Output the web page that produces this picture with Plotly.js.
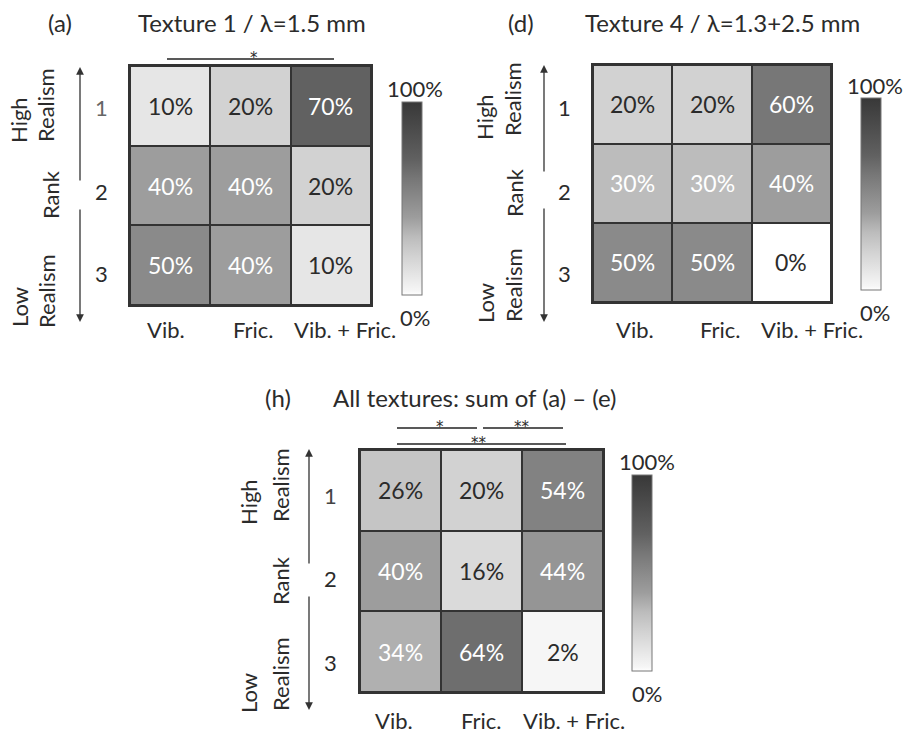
<!DOCTYPE html>
<html><head><meta charset="utf-8">
<script src="https://cdn.plot.ly/plotly-3.0.1.min.js"></script>
<style>html,body{margin:0;padding:0;background:#fff}#chart{width:904px;height:733px}</style>
</head><body><div id="chart"></div>
<script>
// ---- data ----
const categories = ['Vib.', 'Fric.', 'Vib. + Fric.'];
const ranks = [1, 2, 3];
const texture1 = [[10, 20, 70], [40, 40, 20], [50, 40, 10]];
const texture4 = [[20, 20, 60], [30, 30, 40], [50, 50, 0]];
const allTextures = [[26, 20, 54], [40, 16, 44], [34, 64, 2]];
const panelLetters = ['(a)', '(d)', '(h)'];
const panelTitles = ['Texture 1 / λ=1.5 mm', 'Texture 4 / λ=1.3+2.5 mm', 'All textures: sum of (a) – (e)'];
const scaleLabels = ['100%', '0%'];
const rankWords = ['High', 'Realism', 'Rank', 'Low', 'Realism'];

// ---- layout helpers ----
const W = 904, H = 733;
const px = v => v / W, py = v => 1 - v / H;
const FONT = 'Lato, "Open Sans", sans-serif';
const TXT = '#2b2b2b';
const colorscale = [[0, '#ffffff'], [0.02, '#f6f6f6'], [0.1, '#e6e6e6'], [0.2, '#d2d2d2'], [0.3, '#bcbcbc'],
  [0.4, '#9d9d9d'], [0.5, '#8a8a8a'], [0.6, '#777777'], [0.7, '#616161'], [1, '#383838']];

const panels = [
  { z: texture1, hx: [130, 371], hy: [66, 305], cb: [402, 102, 193], cbl: [415, 88, 317],
    letter: [60, 23], title: [252, 23], arrow: [80, 67, 182, 208, 322],
    words: [[19, 120], [46, 105], [50, 195], [20, 307], [46, 291]], rowx: 101, rowy: [108, 192, 273],
    firstRowColor: '#666', xlab: 329, xshift: [-4, 2, 14],
    sig: [[167, 334, 59, 254, '*']] },
  { z: texture4, hx: [593, 831], hy: [65, 302], cb: [861, 98, 192], cbl: [875, 85, 313],
    letter: [521, 23], title: [722, 23], arrow: [544, 65, 173, 207, 322],
    words: [[485, 117], [513, 99], [515, 193], [485, 303], [513, 285]], rowx: 564, rowy: [107, 192, 273],
    firstRowColor: TXT, xlab: 329, xshift: [2, 8, 21],
    sig: [] },
  { z: allTextures, hx: [360, 603], hy: [450, 692], cb: [632, 475, 196], cbl: [647, 462, 693],
    letter: [278, 397], title: [475, 397], arrow: [309, 449, 565, 595, 710],
    words: [[248, 502], [280, 485], [280, 581], [248, 693], [280, 674]], rowx: 330, rowy: [495, 578, 662],
    firstRowColor: '#444', xlab: 720, xshift: [-7, -1, 11],
    sig: [[397, 477, 428, 440, '*'], [483, 563, 428, 522, '**'], [397, 566, 444, 479, '**']] }
];

const data = [], annotations = [], shapes = [];
const layout = {
  width: W, height: H, margin: { l: 0, r: 0, t: 0, b: 0 },
  paper_bgcolor: '#ffffff', plot_bgcolor: '#333333',
  font: { family: FONT, size: 22, color: TXT }, showlegend: false, hovermode: false
};
const ann = o => annotations.push(Object.assign({ xanchor: 'center', yanchor: 'middle', showarrow: false }, o));

panels.forEach((p, i) => {
  const sfx = i === 0 ? '' : String(i + 1);
  const xa = 'x' + sfx, ya = 'y' + sfx;
  data.push({
    type: 'heatmap', x: categories, y: ranks, z: p.z, zmin: 0, zmax: 100,
    colorscale: colorscale, xgap: 2, ygap: 2, xaxis: xa, yaxis: ya,
    colorbar: { x: px(p.cb[0]), xanchor: 'left', y: py(p.cb[1]), yanchor: 'top',
      len: p.cb[2], lenmode: 'pixels', thickness: 20, thicknessmode: 'pixels',
      outlinewidth: 1, outlinecolor: '#777', showticklabels: false, ticks: '', xpad: 0, ypad: 0 }
  });
  const axCommon = { showgrid: false, zeroline: false, showticklabels: false, ticks: '',
    showline: true, mirror: true, linewidth: 2, linecolor: '#333', fixedrange: true };
  layout['xaxis' + sfx] = Object.assign({}, axCommon, { domain: [px(p.hx[0]), px(p.hx[1])], anchor: ya,
    type: 'category', range: [-0.5, categories.length - 0.5] });
  layout['yaxis' + sfx] = Object.assign({}, axCommon, { domain: [py(p.hy[1]), py(p.hy[0])], anchor: xa,
    range: [ranks.length + 0.5, 0.5] });

  // cell labels
  p.z.forEach((row, r) => row.forEach((v, c) => {
    ann({ x: categories[c], y: ranks[r], xref: xa, yref: ya, text: v + '%',
      font: { size: 23, color: v >= 30 ? '#ffffff' : TXT } });
  }));
  // x labels
  categories.forEach((cat, c) => ann({ x: cat, y: py(p.xlab), xref: xa, yref: 'paper',
    text: cat, xshift: p.xshift[c], font: { size: 22, color: TXT } }));
  // row numbers
  ranks.forEach((rk, r) => ann({ x: px(p.rowx), y: py(p.rowy[r]), xref: 'paper', yref: 'paper',
    text: String(rk), font: { size: 22, color: r === 0 ? p.firstRowColor : TXT } }));
  // rotated words
  rankWords.forEach((w, k) => ann({ x: px(p.words[k][0]), y: py(p.words[k][1]), xref: 'paper', yref: 'paper',
    text: w, textangle: -90, font: { size: 22, color: TXT } }));
  // titles
  ann({ x: px(p.letter[0]), y: py(p.letter[1]), xref: 'paper', yref: 'paper', text: panelLetters[i],
    font: { size: 24, color: TXT } });
  ann({ x: px(p.title[0]), y: py(p.title[1]), xref: 'paper', yref: 'paper', text: panelTitles[i],
    font: { size: 24, color: TXT } });
  // colorbar end labels
  ann({ x: px(p.cbl[0]), y: py(p.cbl[1]), xref: 'paper', yref: 'paper', text: scaleLabels[0],
    font: { size: 22, color: TXT } });
  ann({ x: px(p.cbl[0]), y: py(p.cbl[2]), xref: 'paper', yref: 'paper', text: scaleLabels[1],
    font: { size: 22, color: TXT } });
  // arrows
  const a = p.arrow;
  ann({ x: px(a[0]), y: py(a[1]), xref: 'paper', yref: 'paper', ax: 0, ay: a[2] - a[1], text: '',
    showarrow: true, arrowhead: 2, arrowsize: 1.2, arrowwidth: 1.3, arrowcolor: '#333' });
  ann({ x: px(a[0]), y: py(a[4]), xref: 'paper', yref: 'paper', ax: 0, ay: -(a[4] - a[3]), text: '',
    showarrow: true, arrowhead: 2, arrowsize: 1.2, arrowwidth: 1.3, arrowcolor: '#333' });
  // significance brackets
  p.sig.forEach(s => {
    shapes.push({ type: 'line', xref: 'paper', yref: 'paper', x0: px(s[0]), x1: px(s[1]), y0: py(s[2]), y1: py(s[2]),
      line: { color: '#222', width: 1.3 } });
    ann({ x: px(s[3]), y: py(s[2] - 1), xref: 'paper', yref: 'paper', text: s[4],
      font: { family: '"DejaVu Sans", sans-serif', size: 15, color: TXT } });
  });
});

layout.annotations = annotations;
layout.shapes = shapes;
Plotly.newPlot('chart', data, layout, { staticPlot: true, displayModeBar: false });
</script></body></html>
